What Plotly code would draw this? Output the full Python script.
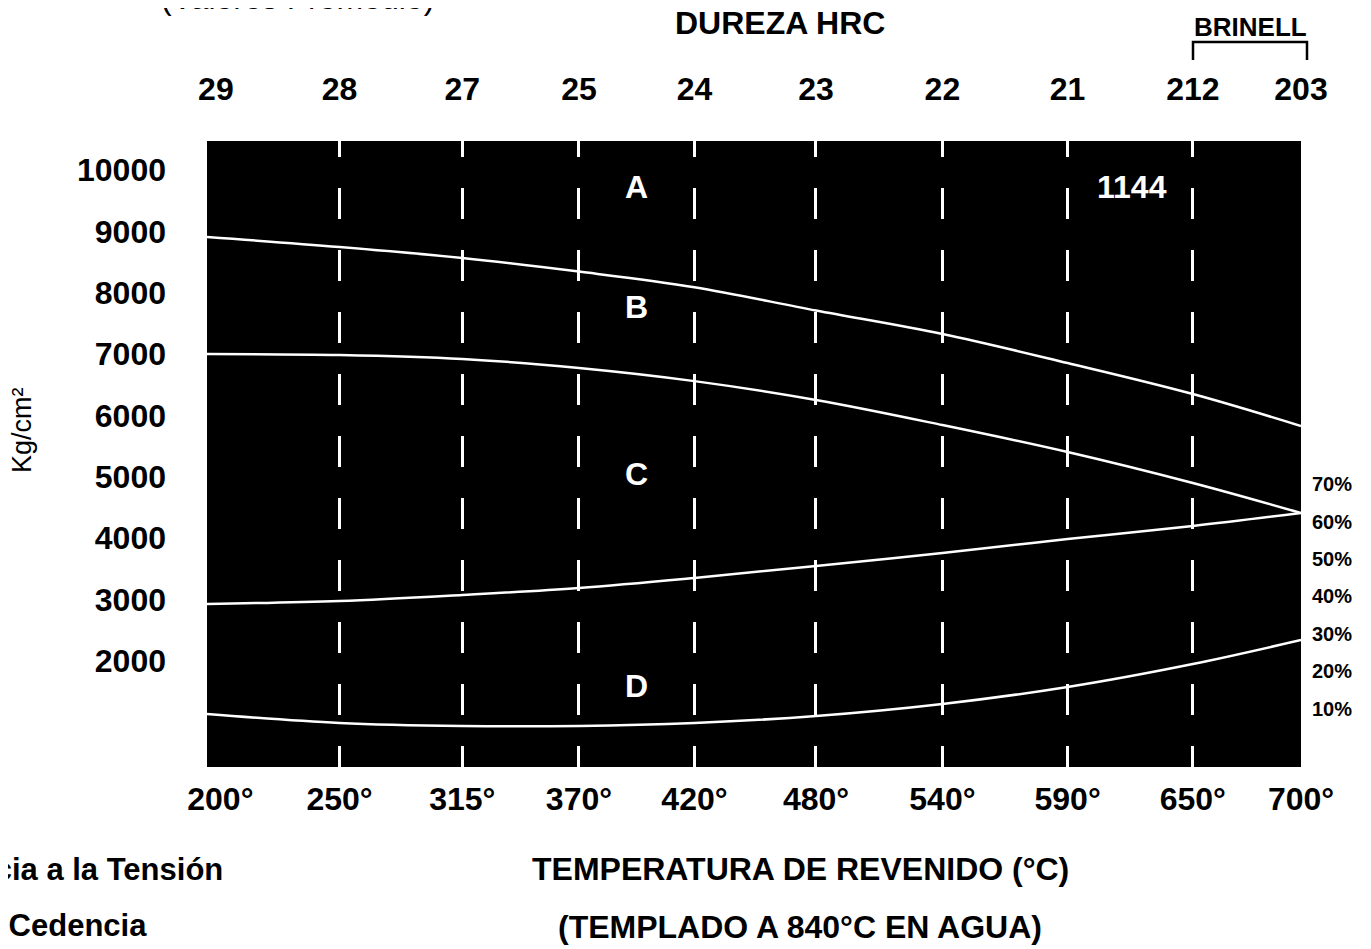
import plotly.graph_objects as go

# ---- data ----
temps = [200, 250, 315, 370, 420, 480, 540, 590, 650, 700]
temp_labels = ["\u00a0\u00a0\u00a0200°", "250°", "315°", "370°", "420°", "480°", "540°", "590°", "650°", "700°"]
hardness_labels = ["\u00a0\u00a029", "28", "27", "25", "24", "23", "22", "21", "212", "203"]
# horizontal position of each temperature column on the chart
x_pos = [0, 1.09, 2.10, 3.06, 4.01, 5.01, 6.05, 7.08, 8.11, 9]

curve_A = [8908, 8745, 8566, 8345, 8090, 7710, 7328, 6855, 6350, 5829]
curve_B = [7002, 6986, 6921, 6774, 6560, 6253, 5845, 5405, 4900, 4411]
curve_C = [2930, 2978, 3076, 3190, 3353, 3548, 3760, 3988, 4200, 4411]
curve_D = [1137, 990, 941, 941, 990, 1104, 1300, 1577, 1951, 2342]

y_ticks = [2000, 3000, 4000, 5000, 6000, 7000, 8000, 9000, 10000]
pct_ticks = [10, 20, 30, 40, 50, 60, 70]
pct_labels = ["10%", "20%", "30%", "40%", "50%", "60%", "70%"]

FONT = "Liberation Sans, Arial, Helvetica, sans-serif"
BIG = 32

fig = go.Figure()
for ys in (curve_A, curve_B, curve_C, curve_D):
    fig.add_trace(go.Scatter(x=x_pos, y=ys, mode="lines",
                             line=dict(color="white", width=2.5, shape="spline", smoothing=1.0),
                             hoverinfo="skip", showlegend=False))

# helper invisible traces to anchor secondary axes
fig.add_trace(go.Scatter(x=x_pos, y=[None]*len(x_pos), xaxis="x2", yaxis="y",
                         mode="lines", showlegend=False, hoverinfo="skip"))
fig.add_trace(go.Scatter(x=x_pos, y=[None]*len(x_pos), xaxis="x3", yaxis="y",
                         mode="lines", showlegend=False, hoverinfo="skip"))
fig.add_trace(go.Scatter(x=x_pos, y=[None]*len(x_pos), xaxis="x", yaxis="y2",
                         mode="lines", showlegend=False, hoverinfo="skip"))

dash = ",".join(["16px"] + ["31px"] * 22)

fig.update_layout(
    width=1363, height=941,
    margin=dict(l=199, r=70, t=133, b=182),
    paper_bgcolor="white", plot_bgcolor="black",
    font=dict(family=FONT, color="black"),
    xaxis=dict(range=[0, 9], tickvals=x_pos, ticktext=temp_labels, showgrid=False,
               zeroline=False, showline=False, ticks="", ticklabelstandoff=10,
               tickfont=dict(size=BIG, family=FONT, weight="bold")),
    xaxis2=dict(range=[0, 9], overlaying="x", side="top", tickvals=x_pos,
                ticktext=hardness_labels, showgrid=False, zeroline=False,
                showline=False, ticks="", ticklabelstandoff=34,
                tickfont=dict(size=BIG, family=FONT, weight="bold")),
    xaxis3=dict(range=[0, 9], overlaying="x", side="bottom", tickvals=x_pos[1:-1],
                showticklabels=False, showgrid=True, gridcolor="white", gridwidth=3,
                griddash=dash, zeroline=False, showline=False, ticks=""),
    yaxis=dict(range=[273, 10472.5], tickvals=y_ticks, tickformat="d", showgrid=False,
               zeroline=False, showline=False, ticks="", ticklabelstandoff=40,
               tickfont=dict(size=BIG, family=FONT, weight="bold")),
    yaxis2=dict(range=[-5.6, 161.8], overlaying="y", side="right", tickvals=pct_ticks,
                ticktext=pct_labels, showgrid=False, zeroline=False, showline=False,
                ticks="", ticklabelstandoff=10,
                tickfont=dict(size=20, family=FONT, weight="bold")),
)

PW, PL, PB, PH = 1094, 207, 767, 626

def px(xp):
    return (xp - PL) / PW

def py(yp):
    return (PB - yp) / PH

def ann(text, x, y, size=BIG, bold=True, xref="paper", yref="paper", color="black",
        xanchor="center", yanchor="middle", angle=0):
    fig.add_annotation(text=text, x=x, y=y, xref=xref, yref=yref, showarrow=False,
                       xanchor=xanchor, yanchor=yanchor, textangle=angle,
                       font=dict(size=size, family=FONT, color=color,
                                 weight="bold" if bold else "normal"))

# curve letters
ann("A", 3.53, 9723, xref="x", yref="y", color="white")
ann("B", 3.53, 7768, xref="x", yref="y", color="white")
ann("C", 3.53, 5048, xref="x", yref="y", color="white")
ann("D", 3.53, 1594, xref="x", yref="y", color="white")
ann("1144", 7.61, 9723, xref="x", yref="y", color="white")

ann("(Valores Promedio)", px(297), py(-2), size=32, bold=False)
ann("DUREZA HRC", px(780), py(23), size=32)
ann("BRINELL", px(1250), py(27), size=26)
ann("Kg/cm²", px(22), py(430), size=27, bold=False, angle=-90)
ann("TEMPERATURA DE REVENIDO (°C)", px(800), py(869), size=32)
ann("(TEMPLADO A 840°C EN AGUA)", px(800), py(927), size=32)
ann("A  Resistencia a la Tensión", px(225), py(869), size=31, xanchor="right")
ann("B  Cedencia", px(149), py(925), size=31, xanchor="right")

# BRINELL bracket
x0, x1 = px(1193), px(1307)
yb, yt = py(60), py(42)
fig.add_shape(type="path", xref="paper", yref="paper",
              path=f"M {x0} {yb} L {x0} {yt} L {x1} {yt} L {x1} {yb}",
              line=dict(color="black", width=2.5))

fig.write_html("out.html")
